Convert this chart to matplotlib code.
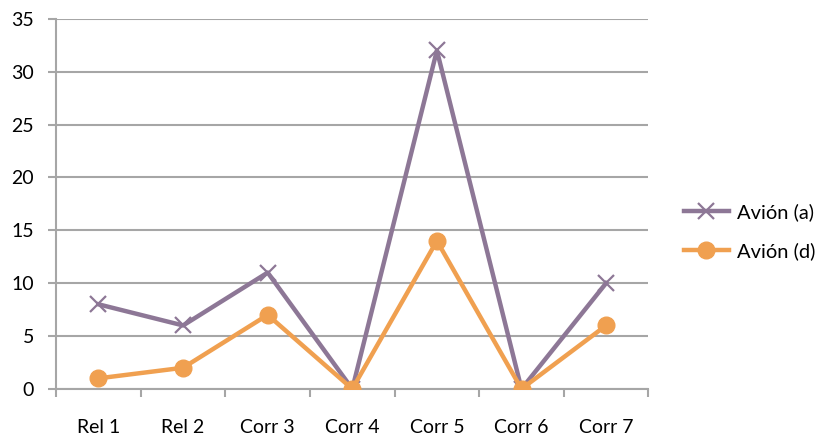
import matplotlib
matplotlib.use("Agg")
import matplotlib.pyplot as plt
import numpy as np

categories = ["Rel 1", "Rel 2", "Corr 3", "Corr 4", "Corr 5", "Corr 6", "Corr 7"]
avion_a = [8, 6, 11, 0, 32, 0, 10]
avion_d = [1, 2, 7, 0, 14, 0, 6]

PURPLE = "#8d7796"
ORANGE = "#f0a050"
GRID = "#a6a6a6"

plt.rcParams["font.family"] = ["Lato", "DejaVu Sans"]

fig = plt.figure(figsize=(8.26, 4.36), dpi=100)
ax = fig.add_axes([0.068, 0.108, 0.717, 0.849])

x = np.arange(len(categories))
ax.plot(x, avion_a, color=PURPLE, lw=3.2, marker="x", ms=12, mew=1.6,
        label="Avión (a)", zorder=3)
ax.plot(x, avion_d, color=ORANGE, lw=3.2, marker="o", ms=12,
        label="Avión (d)", zorder=3)

ax.set_xlim(-0.5, len(categories) - 0.5)
ax.set_ylim(0, 35)
ax.set_yticks(range(0, 36, 5))
ax.yaxis.grid(True, color=GRID, lw=1.5)
ax.set_axisbelow(True)

# category ticks sit between groups; labels centred under each point
ax.set_xticks(np.arange(-0.5, len(categories), 1.0))
ax.set_xticklabels([])
ax.set_xticks(x, minor=True)
ax.set_xticklabels(categories, minor=True)
ax.tick_params(axis="x", which="minor", length=0, pad=22, labelsize=14)
ax.tick_params(axis="x", which="major", length=6, color=GRID, width=1.5)
ax.tick_params(axis="y", length=6, color=GRID, width=1.5, labelsize=14, pad=10)

for side in ("top", "right"):
    ax.spines[side].set_visible(False)
for side in ("left", "bottom"):
    ax.spines[side].set_color(GRID)
    ax.spines[side].set_linewidth(1.5)

ax.legend(loc="center left", bbox_to_anchor=(1.03, 0.425), frameon=False,
          fontsize=14.5, handlelength=2.2, labelspacing=1.05, handletextpad=0.4)

fig.savefig("out.png", dpi=100)
